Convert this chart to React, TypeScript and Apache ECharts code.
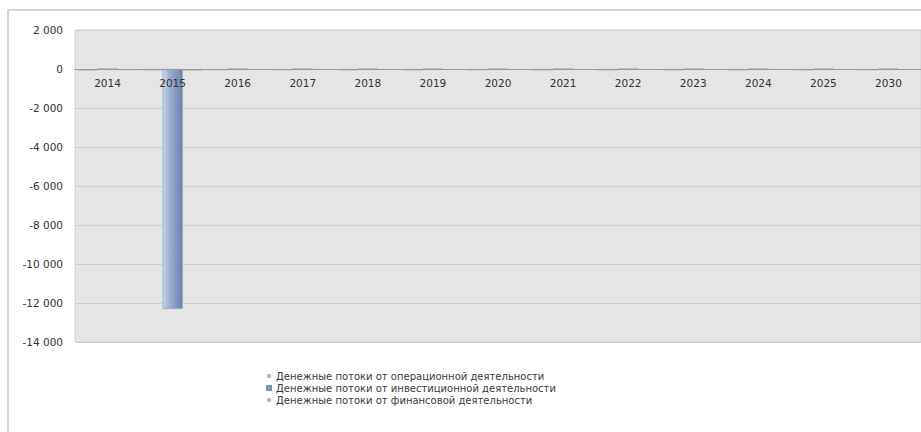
import React, { useEffect, useRef } from "react";
import * as echarts from "echarts";

const categories = ["2014", "2015", "2016", "2017", "2018", "2019", "2020", "2021", "2022", "2023", "2024", "2025", "2030"];
const operating = [-90, -80, -70, -70, -80, -80, -70, -80, -80, -80, -80, -80, -70];
const investing = [0, -12300, 0, 0, 0, 0, 0, 0, 0, 0, 0, 0, 0];
const financing = [-60, -90, -50, -50, -50, -50, -50, -50, -50, -50, -50, -50, -50];
const seriesNames = [
  "Денежные потоки от операционной деятельности",
  "Денежные потоки от инвестиционной деятельности",
  "Денежные потоки от финансовой деятельности",
];

function fmt(v: number): string {
  const s = String(Math.abs(v));
  const parts = s.replace(/\B(?=(\d{3})+(?!\d))/g, " ");
  return (v < 0 ? "-" : "") + parts;
}

export default function App() {
  const ref = useRef<HTMLDivElement>(null);
  useEffect(() => {
    if (!ref.current) return;
    const chart = echarts.init(ref.current, null, { renderer: "svg" });
    chart.setOption({
      animation: false,
      backgroundColor: "#ffffff",
      textStyle: { fontFamily: "DejaVu Sans, Verdana, sans-serif" },
      graphic: [
        {
          type: "rect",
          shape: { x: 8, y: 10, width: 940, height: 440 },
          style: { fill: "none", stroke: "#c8c8c8", lineWidth: 1.5 },
          silent: true,
        },
      ],
      grid: {
        left: 75,
        top: 30,
        right: 0,
        height: 312,
        show: true,
        backgroundColor: "#e5e5e5",
        borderColor: "#d2d2d2",
        borderWidth: 1,
      },
      legend: {
        orient: "vertical",
        left: 261,
        top: 365,
        itemWidth: 4,
        itemHeight: 4,
        itemGap: 0,
        icon: "rect",
        textStyle: { fontSize: 10, color: "#3a3a3a", lineHeight: 12 },
        data: seriesNames,
      },
      xAxis: {
        type: "category",
        data: categories,
        position: "top",
        offset: -39,
        z: 10,
        axisLine: { onZero: false, lineStyle: { color: "#9a9a9a", width: 1 } },
        axisTick: { show: false },
        axisLabel: { fontSize: 10.5, color: "#333", margin: 8, inside: true },
        splitLine: { show: false },
      },
      yAxis: {
        type: "value",
        min: -14000,
        max: 2000,
        interval: 2000,
        axisLine: { show: false },
        axisTick: { show: false },
        axisLabel: { fontSize: 10.5, color: "#333", formatter: (v: number) => fmt(v), margin: 12 },
        splitLine: { lineStyle: { color: "#cfcfcf", width: 1 } },
      },
      series: [
        {
          name: seriesNames[0],
          type: "bar",
          data: operating,
          barWidth: 20,
          barGap: "0%",
          itemStyle: { color: "#b4bfcf" },
        },
        {
          name: seriesNames[1],
          type: "bar",
          data: investing,
          barWidth: 20,
          barGap: "0%",
          itemStyle: {
            color: new echarts.graphic.LinearGradient(0, 0, 1, 0, [
              { offset: 0, color: "#cdd8e8" },
              { offset: 0.35, color: "#9aaed0" },
              { offset: 1, color: "#6d84ab" },
            ]),
            borderColor: "#7c8fae",
            borderWidth: 0.5,
          },
        },
        {
          name: seriesNames[2],
          type: "bar",
          data: financing,
          barWidth: 20,
          barGap: "0%",
          itemStyle: { color: "#bdbdb2" },
        },
      ],
    });
    return () => chart.dispose();
  }, []);
  return <div ref={ref} style={{ position: "fixed", left: 0, top: 0, width: 921, height: 432 }} />;
}
